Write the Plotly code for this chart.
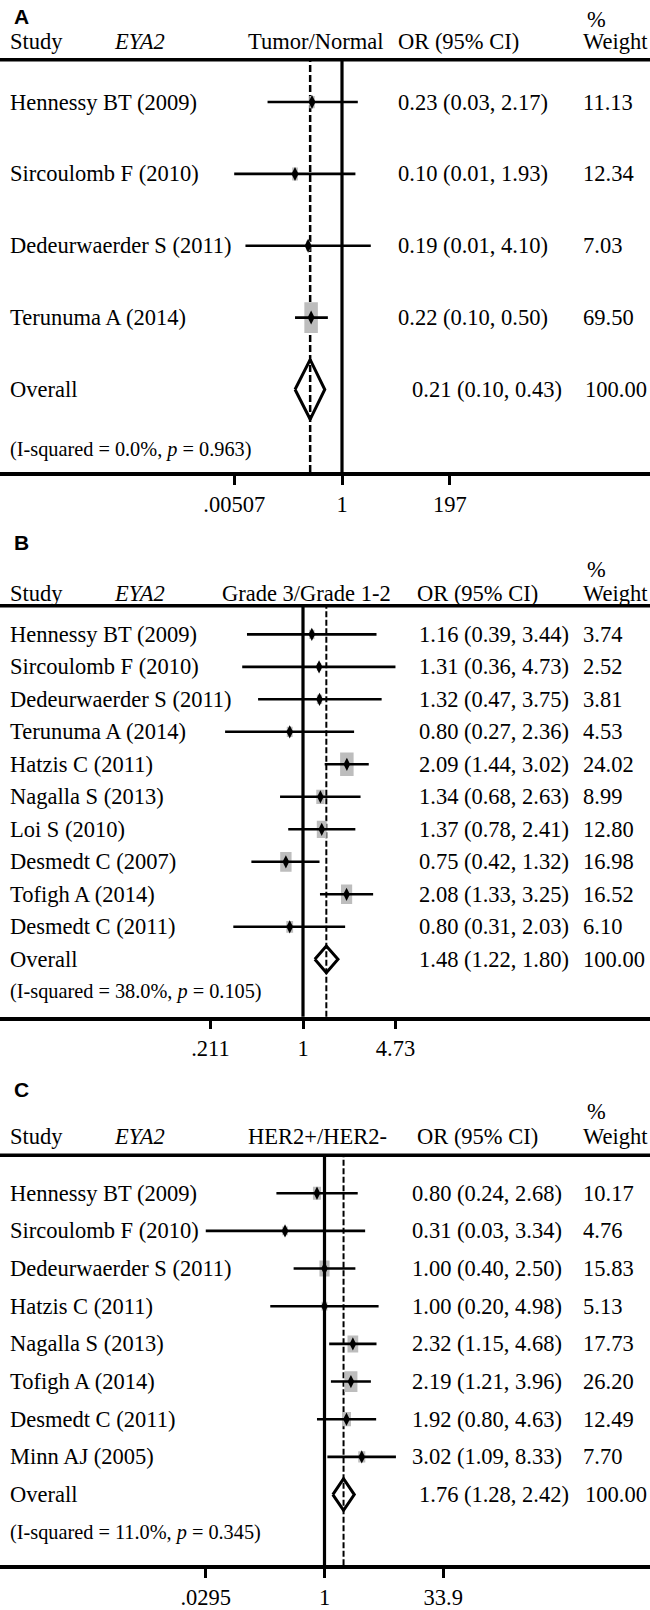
import numpy as np
import plotly.graph_objects as go

W, H = 650, 1610
SERIF = "Liberation Serif, Tinos, Times New Roman, Times, serif"
SANS = "Liberation Sans, Arimo, Arial, sans-serif"

# ---------------- data ----------------
# Panel A: Tumor/Normal
a_studies = ["Hennessy BT (2009)", "Sircoulomb F (2010)", "Dedeurwaerder S (2011)", "Terunuma A (2014)"]
a_or = [0.23, 0.10, 0.19, 0.22]
a_lo = [0.026, 0.00507, 0.0088, 0.10]
a_hi = [2.17, 1.93, 4.10, 0.50]
a_weight = [11.13, 12.34, 7.03, 69.50]
a_overall = [0.21, 0.10, 0.43]
a_het = ["0.0%", "0.963"]
a_ticks = [0.00507, 1, 197]
a_ticklabels = [".00507", "1", "197"]

# Panel B: Grade 3/Grade 1-2
b_studies = ["Hennessy BT (2009)", "Sircoulomb F (2010)", "Dedeurwaerder S (2011)", "Terunuma A (2014)",
             "Hatzis C (2011)", "Nagalla S (2013)", "Loi S (2010)", "Desmedt C (2007)",
             "Tofigh A (2014)", "Desmedt C (2011)"]
b_or = [1.16, 1.31, 1.32, 0.80, 2.09, 1.34, 1.37, 0.75, 2.08, 0.80]
b_lo = [0.39, 0.36, 0.47, 0.27, 1.44, 0.68, 0.78, 0.42, 1.33, 0.31]
b_hi = [3.44, 4.73, 3.75, 2.36, 3.02, 2.63, 2.41, 1.32, 3.25, 2.03]
b_weight = [3.74, 2.52, 3.81, 4.53, 24.02, 8.99, 12.80, 16.98, 16.52, 6.10]
b_overall = [1.48, 1.22, 1.80]
b_het = ["38.0%", "0.105"]
b_ticks = [0.211, 1, 4.73]
b_ticklabels = [".211", "1", "4.73"]

# Panel C: HER2+/HER2-
c_studies = ["Hennessy BT (2009)", "Sircoulomb F (2010)", "Dedeurwaerder S (2011)", "Hatzis C (2011)",
             "Nagalla S (2013)", "Tofigh A (2014)", "Desmedt C (2011)", "Minn AJ (2005)"]
c_or = [0.80, 0.31, 1.00, 1.00, 2.32, 2.19, 1.92, 3.02]
c_lo = [0.24, 0.0295, 0.40, 0.20, 1.15, 1.21, 0.80, 1.09]
c_hi = [2.68, 3.34, 2.50, 4.98, 4.68, 3.96, 4.63, 8.33]
c_weight = [10.17, 4.76, 15.83, 5.13, 17.73, 26.20, 12.49, 7.70]
c_overall = [1.76, 1.28, 2.42]
c_het = ["11.0%", "0.345"]
c_ticks = [0.0295, 1, 33.9]
c_ticklabels = [".0295", "1", "33.9"]

panels = [
    dict(letter="A", effect="Tumor/Normal", studies=a_studies, orr=a_or, lo=a_lo, hi=a_hi,
         weight=a_weight, overall=a_overall, het=a_het, ticks=a_ticks, ticklabels=a_ticklabels,
         L=dict(top=60, bottom=475, row0=102.7, dy=72.3, het_y=452, null_px=342, k=20.4,
                letter_y=17, pct_y=20, head_y=42, or_head_x=396, or_x=396, or_x_ov=410,
                w_x=581, w_x_ov=583, eff_x=315, box_max=13.5, box_aspect=2.3,
                dia_half=0.415, pt_size=10, dash="7px,3px", dash_w=2.5)),
    dict(letter="B", effect="Grade 3/Grade 1-2", studies=b_studies, orr=b_or, lo=b_lo, hi=b_hi,
         weight=b_weight, overall=b_overall, het=b_het, ticks=b_ticks, ticklabels=b_ticklabels,
         L=dict(top=609.5, bottom=1023, row0=638.3, dy=32.7, het_y=997.5, null_px=303, k=59.5,
                letter_y=546, pct_y=573, head_y=597, or_head_x=415, or_x=417, or_x_ov=417,
                w_x=581, w_x_ov=581, eff_x=306.5, box_max=13.5, box_aspect=1.75,
                dia_half=0.41, pt_size=9.5, dash="6px,2.5px", dash_w=2)),
    dict(letter="C", effect="HER2+/HER2-", studies=c_studies, orr=c_or, lo=c_lo, hi=c_hi,
         weight=c_weight, overall=c_overall, het=c_het, ticks=c_ticks, ticklabels=c_ticklabels,
         L=dict(top=1162.5, bottom=1575, row0=1200.7, dy=37.9, het_y=1542, null_px=324.5, k=33.7,
                letter_y=1096, pct_y=1118, head_y=1144, or_head_x=415, or_x=410, or_x_ov=417,
                w_x=581, w_x_ov=583, eff_x=317, box_max=13, box_aspect=1.6,
                dia_half=0.42, pt_size=9.5, dash="6px,2.5px", dash_w=2)),
]

FS = 22.5
fig = go.Figure()
axes = {}
shapes = []
annotations = []
ln10 = np.log(10)


def ann(text, x, y, yref, xanchor="left", size=FS, family=SERIF):
    annotations.append(dict(text=text, x=x / W, xref="paper", y=y, yref=yref,
                            xanchor=xanchor, yanchor="middle", showarrow=False,
                            font=dict(family=family, size=size, color="black")))


for idx, p in enumerate(panels):
    n = idx + 1
    sfx = "" if n == 1 else str(n)
    xa, ya = "x" + sfx, "y" + sfx
    L = p["L"]
    nrows = len(p["studies"])
    rows = list(range(nrows))
    ov_row = nrows

    ydom = [1 - L["bottom"] / H, 1 - L["top"] / H]
    yr = [(L["bottom"] - L["row0"]) / L["dy"], (L["top"] - L["row0"]) / L["dy"]]
    xr = [-L["null_px"] / (L["k"] * ln10), (W - L["null_px"]) / (L["k"] * ln10)]

    axes["xaxis" + sfx] = dict(type="log", range=xr, domain=[0, 1], anchor=ya,
                               showgrid=False, zeroline=False, showline=True,
                               linewidth=3.5, linecolor="black", ticks="outside",
                               ticklen=9, tickwidth=3, tickcolor="black",
                               tickvals=p["ticks"], ticktext=p["ticklabels"],
                               tickfont=dict(family=SERIF, size=FS, color="black"),
                               fixedrange=True)
    axes["yaxis" + sfx] = dict(domain=ydom, range=yr, visible=False, anchor=xa,
                               fixedrange=True)

    ov_or, ov_lo, ov_hi = p["overall"]

    # dashed overall line (below traces)
    shapes.append(dict(type="line", xref=xa, yref=ya + " domain", x0=ov_or, x1=ov_or,
                       y0=0, y1=1, layer="below",
                       line=dict(color="black", width=L["dash_w"], dash=L["dash"])))
    # header line
    shapes.append(dict(type="line", xref="paper", yref=ya + " domain", x0=0, x1=1, y0=1, y1=1,
                       line=dict(color="black", width=3.5)))
    # null line
    shapes.append(dict(type="line", xref=xa, yref=ya + " domain", x0=1, x1=1, y0=0, y1=1,
                       layer="above", line=dict(color="black", width=3.2)))

    # weight boxes (area proportional to weight), as filled polygons on the data axes
    wmax = max(p["weight"])
    bx, by = [], []
    for r, o, w in zip(rows, p["orr"], p["weight"]):
        bw = L["box_max"] * np.sqrt(w / wmax)          # pixels
        bh = bw * L["box_aspect"]                        # pixels
        fx = np.exp((bw / 2) / L["k"])
        hy_ = (bh / 2) / L["dy"]
        bx += [o / fx, o * fx, o * fx, o / fx, o / fx, None]
        by += [r - hy_, r - hy_, r + hy_, r + hy_, r - hy_, None]
    fig.add_trace(go.Scatter(x=bx, y=by, mode="lines", fill="toself", fillcolor="#bdbdbd",
                             line=dict(width=0, color="#bdbdbd"), xaxis=xa, yaxis=ya,
                             hoverinfo="skip"))

    # CI lines
    cx, cy = [], []
    for r, lo, hi in zip(rows, p["lo"], p["hi"]):
        cx += [lo, hi, None]
        cy += [r, r, None]
    fig.add_trace(go.Scatter(x=cx, y=cy, mode="lines", xaxis=xa, yaxis=ya,
                             line=dict(color="black", width=2.6), hoverinfo="skip"))
    # point estimates
    fig.add_trace(go.Scatter(x=p["orr"], y=rows, mode="markers", xaxis=xa, yaxis=ya,
                             marker=dict(symbol="diamond-tall", size=L["pt_size"], color="black",
                                         line=dict(width=0))))
    # overall diamond
    dh = L["dia_half"]
    fig.add_trace(go.Scatter(x=[ov_lo, ov_or, ov_hi, ov_or, ov_lo],
                             y=[ov_row, ov_row - dh, ov_row, ov_row + dh, ov_row],
                             mode="lines", xaxis=xa, yaxis=ya,
                             line=dict(color="black", width=3)))

    # headers
    ann("<b>%s</b>" % p["letter"], 12, 1 - L["letter_y"] / H, "paper", size=21, family=SANS)
    ann("%", 585, 1 - L["pct_y"] / H, "paper")
    hy = 1 - L["head_y"] / H
    ann("Study", 8, hy, "paper")
    ann("<i>EYA2</i>", 112, hy, "paper")
    ann(p["effect"], L["eff_x"], hy, "paper", xanchor="center")
    ann("OR (95% CI)", L["or_head_x"], hy, "paper")
    ann("Weight", 581, hy, "paper")

    # rows
    for r, s, o, lo, hi, w in zip(rows, p["studies"], p["orr"], p["lo"], p["hi"], p["weight"]):
        ann(s, 8, r, ya)
        ann("%.2f (%.2f, %.2f)" % (o, lo, hi), L["or_x"], r, ya)
        ann("%.2f" % w, L["w_x"], r, ya)
    ann("Overall", 8, ov_row, ya)
    ann("%.2f (%.2f, %.2f)" % (ov_or, ov_lo, ov_hi), L["or_x_ov"], ov_row, ya)
    ann("%.2f" % 100.0, L["w_x_ov"], ov_row, ya)
    het_row = (L["het_y"] - L["row0"]) / L["dy"]
    ann("(I-squared = %s, <i>p</i> = %s)" % (p["het"][0], p["het"][1]), 8, het_row, ya, size=20.3)

fig.update_layout(width=W, height=H, margin=dict(l=0, r=0, t=0, b=0),
                  paper_bgcolor="white", plot_bgcolor="white", showlegend=False,
                  shapes=shapes, annotations=annotations, **axes)

fig.write_html("out.html", config={"displayModeBar": False},
               post_script="document.body.style.margin='0';")
